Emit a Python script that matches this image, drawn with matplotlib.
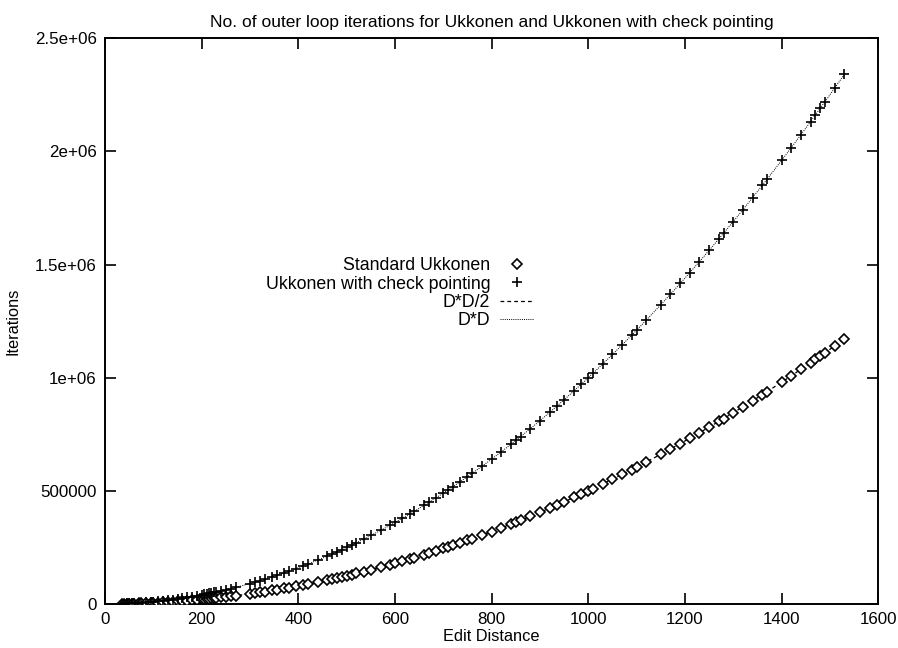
import matplotlib
matplotlib.use("Agg")
import matplotlib.pyplot as plt
import numpy as np

plt.rcParams['font.family'] = ['Liberation Sans', 'DejaVu Sans']

title = "No. of outer loop iterations for Ukkonen and Ukkonen with check pointing"
xlabel = "Edit Distance"
ylabel = "Iterations"
series_names = ["Standard Ukkonen", "Ukkonen with check pointing", "D*D/2", "D*D"]

edit_distance = [35, 40, 45, 50, 55, 60, 70, 75, 85, 95, 100, 110, 120, 130, 140, 150, 160, 170, 180, 190,
                 200, 205, 210, 215, 220, 225, 230, 240, 250, 260, 270,
                 300, 310, 320, 330, 345, 355, 370, 380, 395, 410, 420, 440, 460, 470, 480, 490, 500, 510, 520,
                 535, 550, 570, 590, 600, 615, 630, 640,
                 660, 670, 685, 700, 710, 720, 735, 750, 760, 780, 800, 820, 840, 850, 860, 880, 900, 920, 935,
                 950, 970, 985, 1000, 1010,
                 1030, 1050, 1070, 1090, 1100, 1120, 1150, 1170, 1190, 1210, 1230, 1250, 1270, 1280, 1300, 1320,
                 1340, 1360, 1370, 1400, 1420, 1440, 1460, 1470, 1480, 1490, 1510, 1530]

standard_iters = [612, 800, 1012, 1250, 1512, 1800, 2450, 2812, 3612, 4512, 5000, 6050, 7200, 8450, 9800,
                  11250, 12800, 14450, 16200, 18050, 20000, 21012, 22050, 23112, 24200, 25312, 26450, 28800,
                  31250, 33800, 36450,
                  45000, 48050, 51200, 54450, 59512, 63012, 68450, 72200, 78012, 84050, 88200, 96800, 105800,
                  110450, 115200, 120050, 125000, 130050, 135200, 143112, 151250, 162450, 174050, 180000,
                  189112, 198450, 204800,
                  217800, 224450, 234612, 245000, 252050, 259200, 270112, 281250, 288800, 304200, 320000,
                  336200, 352800, 361250, 369800, 387200, 405000, 423200, 437112, 451250, 470450, 485112,
                  500000, 510050,
                  530450, 551250, 572450, 594050, 605000, 627200, 661250, 684450, 708050, 732050, 756450,
                  781250, 806450, 819200, 845000, 871200, 897800, 924800, 938450, 980000, 1008200, 1036800,
                  1065800, 1080450, 1095200, 1110050, 1140050, 1170450]

checkpoint_iters = [1225, 1600, 2025, 2500, 3025, 3600, 4900, 5625, 7225, 9025, 10000, 12100, 14400, 16900,
                    19600, 22500, 25600, 28900, 32400, 36100, 40000, 42025, 44100, 46225, 48400, 50625, 52900,
                    57600, 62500, 67600, 72900,
                    90000, 96100, 102400, 108900, 119025, 126025, 136900, 144400, 156025, 168100, 176400,
                    193600, 211600, 220900, 230400, 240100, 250000, 260100, 270400, 286225, 302500, 324900,
                    348100, 360000, 378225, 396900, 409600,
                    435600, 448900, 469225, 490000, 504100, 518400, 540225, 562500, 577600, 608400, 640000,
                    672400, 705600, 722500, 739600, 774400, 810000, 846400, 874225, 902500, 940900, 970225,
                    1000000, 1020100,
                    1060900, 1102500, 1144900, 1188100, 1210000, 1254400, 1322500, 1368900, 1416100, 1464100,
                    1512900, 1562500, 1612900, 1638400, 1690000, 1742400, 1795600, 1849600, 1876900, 1960000,
                    2016400, 2073600, 2131600, 2160900, 2190400, 2220100, 2280100, 2340900]

xticks = [0, 200, 400, 600, 800, 1000, 1200, 1400, 1600]
yticks = [0, 500000, 1000000, 1500000, 2000000, 2500000]
ytick_labels = ["0", "500000", "1e+06", "1.5e+06", "2e+06", "2.5e+06"]

fig = plt.figure(figsize=(8.98, 6.48), dpi=100)
ax = fig.add_axes([0.117, 0.068, 0.861, 0.873])

x = np.array(edit_distance, dtype=float)
d = np.linspace(x.min(), x.max(), 400)

ax.plot(edit_distance, standard_iters, linestyle='none', marker='D', markersize=4.8,
        markerfacecolor='white', markeredgecolor='black', markeredgewidth=1.2,
        label=series_names[0], zorder=3)
ax.plot(edit_distance, checkpoint_iters, linestyle='none', marker='+', markersize=7.5,
        color='black', markeredgewidth=1.2, label=series_names[1], zorder=3)
ax.plot(d, d * d / 2, color='black', linestyle=(0, (3, 2.5)), linewidth=0.9,
        label=series_names[2], zorder=2)
ax.plot(d, d * d, color='black', linestyle=(0, (1, 1.2)), linewidth=0.7,
        label=series_names[3], zorder=2)

ax.set_xlim(0, 1600)
ax.set_ylim(0, 2500000)
ax.set_xticks(xticks)
ax.set_xticklabels([str(v) for v in xticks])
ax.set_yticks(yticks)
ax.set_yticklabels(ytick_labels)
ax.tick_params(direction='in', length=8, width=1.2, top=True, right=True,
               labelsize=12.2, pad=6)
for s in ax.spines.values():
    s.set_linewidth(1.4)

ax.set_title(title, fontsize=12.5, pad=8)
ax.set_xlabel(xlabel, fontsize=11.8, labelpad=1)
ax.set_ylabel(ylabel, fontsize=11.8, labelpad=10)

leg = ax.legend(loc='center right', bbox_to_anchor=(0.566, 0.549), frameon=False,
                markerfirst=False, fontsize=12.8, handlelength=1.9, handletextpad=0.55,
                labelspacing=0.08, borderpad=0)
for t in leg.get_texts():
    t.set_ha('right')

fig.savefig("out.png", dpi=100)
